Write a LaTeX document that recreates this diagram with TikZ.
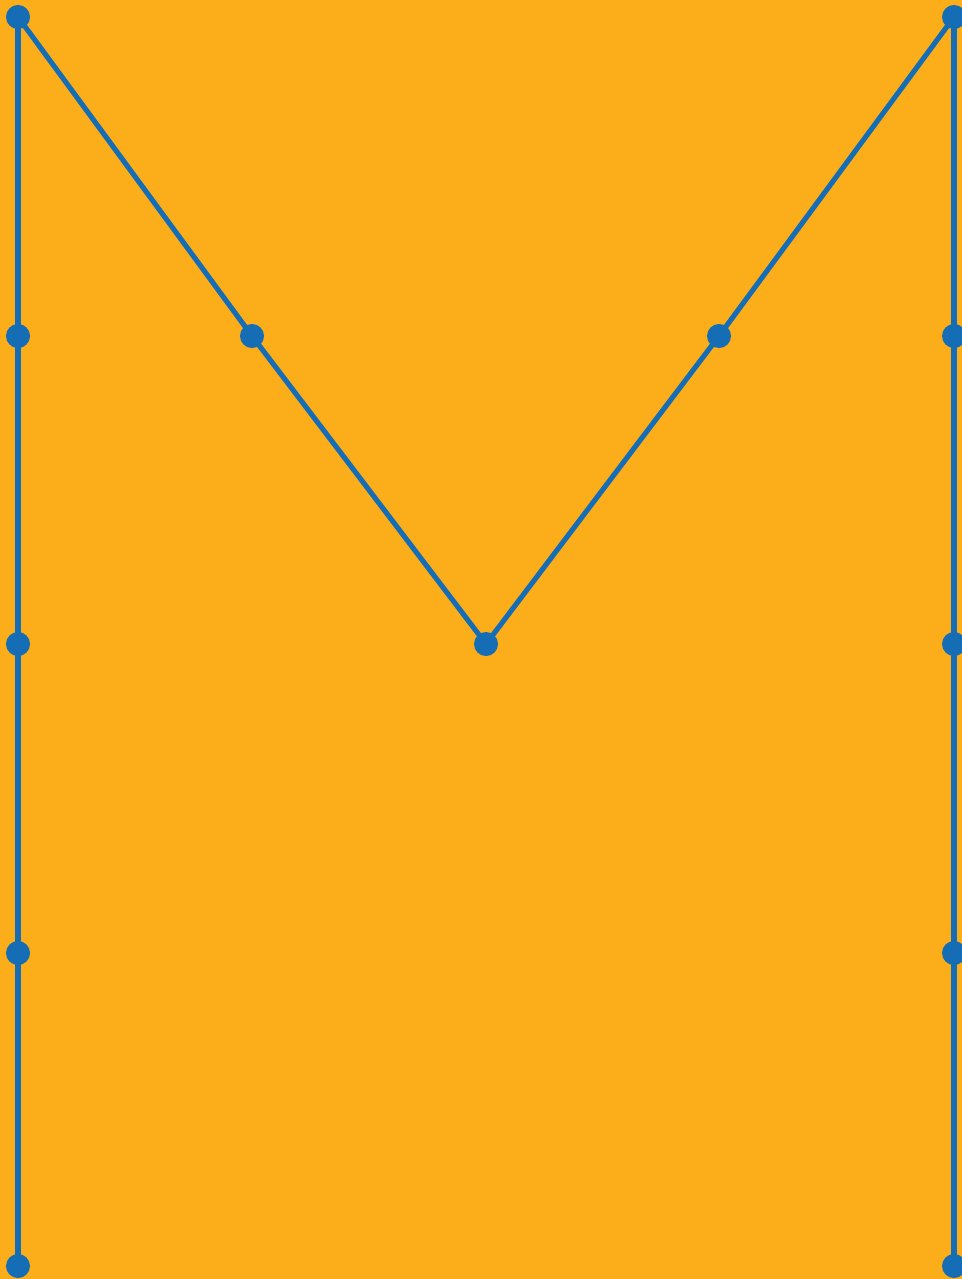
\documentclass[tikz,border=0pt]{standalone}
\usepackage{xcolor}
\usepackage{tikz}
\usetikzlibrary{positioning,backgrounds}

\definecolor{bgorange}{HTML}{FBAD1A}
\definecolor{dotblue}{HTML}{156DB5}

\begin{document}
\begin{tikzpicture}[
    x=0.01cm, y=-0.01cm,
    dot/.style={circle, fill=dotblue, inner sep=0pt, minimum size=0.24cm},
    arr/.style={-, line width=1.45pt, dotblue}
]
    \useasboundingbox (0,0) rectangle (962,1279);
    % left column
    \node[dot] (L1) at (18,17) {};
    \node[dot] (L2) at (18,336) {};
    \node[dot] (L3) at (18,644) {};
    \node[dot] (L4) at (18,953) {};
    \node[dot] (L5) at (18,1266) {};
    % right column
    \node[dot] (R1) at (954,17) {};
    \node[dot] (R2) at (954,336) {};
    \node[dot] (R3) at (954,644) {};
    \node[dot] (R4) at (954,953) {};
    \node[dot] (R5) at (954,1266) {};
    % middle
    \node[dot] (M1) at (252,336) {};
    \node[dot] (M2) at (486,644) {};
    \node[dot] (M3) at (719,336) {};
    \begin{scope}[on background layer]
    \fill[bgorange] (0,0) rectangle (962,1279);
    \draw[arr] (L1.center) -- (L2.center) -- (L3.center) -- (L4.center) -- (L5.center);
    \draw[arr] (R1.center) -- (R2.center) -- (R3.center) -- (R4.center) -- (R5.center);
    \draw[arr] (L1.center) -- (M1.center) -- (M2.center) -- (M3.center) -- (R1.center);
    \end{scope}
\end{tikzpicture}
\end{document}
